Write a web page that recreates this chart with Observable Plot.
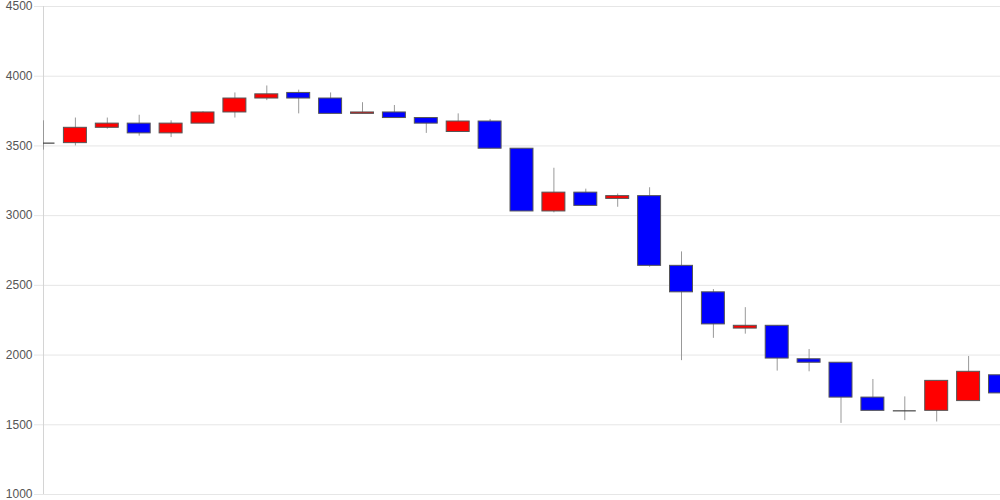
<!DOCTYPE html>
<html>
<head>
<meta charset="utf-8">
<script src="https://cdn.jsdelivr.net/npm/d3@7"></script>
<script src="https://cdn.jsdelivr.net/npm/@observablehq/plot@0.6"></script>
<style>
  html, body { margin: 0; padding: 0; background: #fff; }
  #chart svg { display: block; }
</style>
</head>
<body>
<div id="chart"></div>
<script>
// Candle index (trading days, no date labels shown)
const days  = [0,1,2,3,4,5,6,7,8,9,10,11,12,13,14,15,16,17,18,19,20,21,22,23,24,25,26,27,28,29,30];
const opens = [3520,3520,3630,3660,3590,3660,3740,3840,3880,3840,3730,3740,3700,3600,3675,3480,3030,3165,3120,3140,2640,2450,2190,2210,1970,1945,1695,1600,1600,1670,1855];
const highs = [3680,3700,3700,3720,3680,3745,3880,3930,3900,3880,3810,3790,3700,3730,3690,3480,3340,3190,3155,3200,2740,2470,2340,2210,2040,1945,1825,1700,1815,1990,1940];
const lows  = [3470,3500,3620,3570,3560,3660,3700,3825,3730,3730,3730,3700,3590,3600,3480,3030,3020,3070,3060,2630,1960,2120,2150,1885,1880,1510,1600,1530,1520,1670,1625];
const closes= [3520,3630,3660,3590,3660,3740,3840,3870,3840,3730,3740,3700,3660,3675,3480,3030,3165,3070,3140,2640,2450,2220,2210,1975,1945,1695,1600,1600,1815,1880,1725];
const yTicks = [1000,1500,2000,2500,3000,3500,4000,4500];

const data = days.map((d, k) => ({i: d, open: opens[k], high: highs[k], low: lows[k], close: closes[k]}));
const half = 0.36;
const upColor = "#ff0000", downColor = "#0000ff";

const chart = Plot.plot({
  width: 1000,
  height: 500,
  marginLeft: 43,
  marginRight: 0,
  marginTop: 6,
  marginBottom: 6,
  style: {fontFamily: "'Liberation Sans', Arial, sans-serif", fontSize: "12px", background: "#fff"},
  x: {domain: [0, 30], range: [43, 1000], axis: null},
  y: {domain: [1000, 4500], axis: null},
  color: {type: "identity"},
  marks: [
    Plot.ruleY(yTicks, {stroke: "#e6e6e6"}),
    Plot.axisY(yTicks, {tickSize: 9, tickPadding: 2, stroke: "#e6e6e6", color: "#555", fill: "#555", fontSize: 12, label: null, tickFormat: d => String(d)}),
    Plot.ruleX([0], {stroke: "#d4d4d4"}),
    Plot.ruleX(data, {x: "i", y1: "low", y2: "high", stroke: "#999", clip: true}),
    Plot.rect(data.filter(d => d.open !== d.close), {
      x1: d => d.i - half, x2: d => d.i + half,
      y1: "open", y2: "close",
      fill: d => d.close > d.open ? upColor : downColor,
      stroke: "#555", strokeWidth: 1, clip: true
    }),
    Plot.ruleY(data.filter(d => d.open === d.close), {
      y: "open", x1: d => d.i - half, x2: d => d.i + half,
      stroke: "#444", strokeWidth: 1.2, clip: true
    })
  ]
});
document.getElementById("chart").appendChild(chart);
</script>
</body>
</html>
